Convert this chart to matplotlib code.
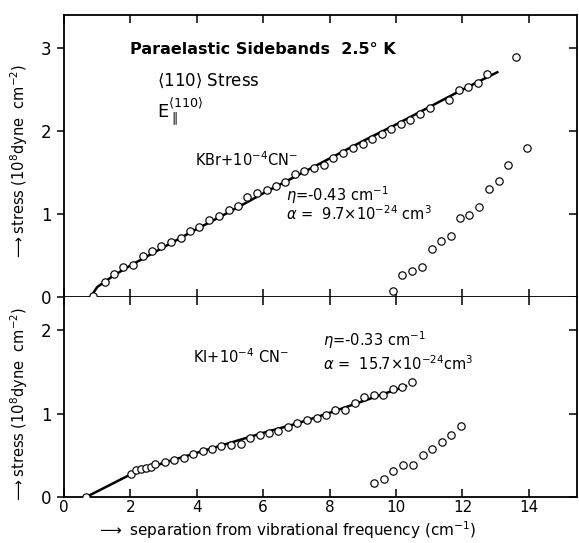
import numpy as np
import matplotlib.pyplot as plt

# KBr + 1e-4 CN-  (upper panel)
kbr_x = [0.86, 1.23, 1.51, 1.79, 2.09, 2.37, 2.65, 2.93, 3.21, 3.51, 3.80, 4.08, 4.38, 4.66,
         4.96, 5.24, 5.52, 5.80, 6.11, 6.39, 6.67, 6.96, 7.24, 7.54, 7.83, 8.11, 8.41, 8.70,
         9.00, 9.28, 9.57, 9.85, 10.14, 10.42, 10.72, 11.02, 11.61, 11.90, 12.18, 12.46, 12.75]
kbr_y = [0.01, 0.18, 0.28, 0.36, 0.39, 0.49, 0.56, 0.61, 0.66, 0.71, 0.80, 0.85, 0.93, 0.98,
         1.05, 1.10, 1.20, 1.25, 1.29, 1.34, 1.39, 1.48, 1.52, 1.55, 1.59, 1.67, 1.74, 1.80,
         1.84, 1.90, 1.97, 2.02, 2.08, 2.14, 2.21, 2.28, 2.37, 2.49, 2.53, 2.58, 2.69]
kbr_fit_x = [0.80, 1.0, 1.5, 2.0, 3.0, 4.0, 5.0, 6.0, 7.0, 8.0, 9.0, 10.0, 11.0, 12.0, 13.05]
kbr_fit_y = [0.0, 0.12, 0.26, 0.38, 0.60, 0.82, 1.03, 1.25, 1.46, 1.67, 1.88, 2.08, 2.29, 2.50, 2.71]
kbr2_x = [9.92, 10.19, 10.47, 10.79, 11.08, 11.36, 11.66, 11.94, 12.21, 12.51, 12.80, 13.09,
          13.38, 13.61, 13.95]
kbr2_y = [0.07, 0.27, 0.31, 0.36, 0.58, 0.68, 0.73, 0.95, 0.99, 1.08, 1.30, 1.40, 1.59, 2.89, 1.80]

# KI + 1e-4 CN-  (lower panel)
ki_x = [0.67, 2.02, 2.17, 2.32, 2.48, 2.61, 2.75, 3.03, 3.32, 3.61, 3.90, 4.18, 4.46, 4.74,
        5.03, 5.32, 5.61, 5.89, 6.18, 6.46, 6.74, 7.02, 7.33, 7.61, 7.90, 8.17, 8.47, 8.75,
        9.04, 9.33, 9.62, 9.90, 10.19, 10.47]
ki_y = [0.00, 0.28, 0.32, 0.34, 0.35, 0.36, 0.40, 0.42, 0.44, 0.47, 0.52, 0.55, 0.58, 0.61,
        0.62, 0.64, 0.71, 0.74, 0.77, 0.79, 0.84, 0.89, 0.93, 0.95, 0.99, 1.05, 1.05, 1.13,
        1.20, 1.23, 1.22, 1.30, 1.32, 1.38]
ki_fit_x = [0.67, 2.0, 3.0, 4.0, 5.0, 6.0, 7.0, 8.0, 9.0, 10.3]
ki_fit_y = [0.0, 0.27, 0.41, 0.53, 0.65, 0.77, 0.88, 1.01, 1.15, 1.33]
ki2_x = [9.35, 9.64, 9.92, 10.20, 10.50, 10.80, 11.08, 11.37, 11.66, 11.95]
ki2_y = [0.17, 0.22, 0.31, 0.39, 0.39, 0.51, 0.58, 0.66, 0.74, 0.85]

xticks = [0, 2, 4, 6, 8, 10, 12, 14]

fig = plt.figure(figsize=(5.79, 5.43), dpi=100)
L, R = 64 / 579, 577 / 579
ax1 = fig.add_axes([L, 1 - 297 / 543, R - L, (297 - 15) / 543])
ax2 = fig.add_axes([L, 1 - 497 / 543, R - L, (497 - 297) / 543])

mk = dict(marker='o', ms=5.3, mfc='white', mec='black', mew=0.85, ls='none', zorder=3)

ax1.plot(kbr_fit_x, kbr_fit_y, color='black', lw=1.8, zorder=2)
ax1.plot(kbr_x, kbr_y, **mk)
ax1.plot(kbr2_x, kbr2_y, **mk)

ax2.plot(ki_fit_x, ki_fit_y, color='black', lw=1.8, zorder=2)
ax2.plot(ki_x, ki_y, **mk)
ax2.plot(ki2_x, ki2_y, **mk)

for ax, ymax, yt in [(ax1, 3.4, [0, 1, 2, 3]), (ax2, 2.4, [0, 1, 2])]:
    ax.set_xlim(0, 15.45)
    ax.set_ylim(0, ymax)
    ax.set_xticks(xticks)
    ax.set_yticks(yt)
    for s in ax.spines.values():
        s.set_linewidth(1.3)
    ax.tick_params(axis='x', direction='in', length=6, width=1.1, top=True)
    ax.tick_params(axis='y', direction='out', length=5, width=1.1, labelsize=12, pad=4,
                   right=True)
    ax.set_ylabel(r'$\longrightarrow$stress (10$^8$dyne  cm$^{-2}$)', fontsize=10.5)

# right-hand y ticks point inward, left ones outward
for ax in (ax1, ax2):
    for t in ax.yaxis.get_major_ticks():
        t.tick2line.set_marker(0)
        t.tick2line.set_markersize(6)

ax1.tick_params(axis='x', labelbottom=False)
ax2.tick_params(axis='x', labelsize=11, pad=2)
ax2.spines['top'].set_visible(False)
ax1.yaxis.set_label_coords(-0.066, 0.48)
ax2.yaxis.set_label_coords(-0.066, 0.46)

fig.text(287 / 579, 1 - 530 / 543,
         r'$\longrightarrow$ separation from vibrational frequency (cm$^{-1}$)',
         fontsize=11, ha='center', va='center')

ax1.text(2.0, 2.98, u'Paraelastic Sidebands  2.5\u00b0 K', fontsize=11.5, fontweight='bold',
         va='center')
ax1.text(2.8, 2.6, r'$\langle$110$\rangle$ Stress', fontsize=12, va='center')
ax1.text(2.8, 2.22, r'E$_{\parallel}^{\langle 110\rangle}$', fontsize=13, va='center')
ax1.text(3.95, 1.65, r'KBr+10$^{-4}$CN$^{-}$', fontsize=10.5, va='center')
ax1.text(6.7, 1.23, r'$\eta$=-0.43 cm$^{-1}$', fontsize=10.5, va='center')
ax1.text(6.7, 1.0, r'$\alpha$ =  9.7$\times$10$^{-24}$ cm$^3$', fontsize=10.5, va='center')

ax2.text(3.9, 1.68, r'KI+10$^{-4}$ CN$^{-}$', fontsize=10.5, va='center')
ax2.text(7.8, 1.88, r'$\eta$=-0.33 cm$^{-1}$', fontsize=10.5, va='center')
ax2.text(7.8, 1.6, r'$\alpha$ =  15.7$\times$10$^{-24}$cm$^3$', fontsize=10.5, va='center')

fig.savefig('out.png', dpi=100)
